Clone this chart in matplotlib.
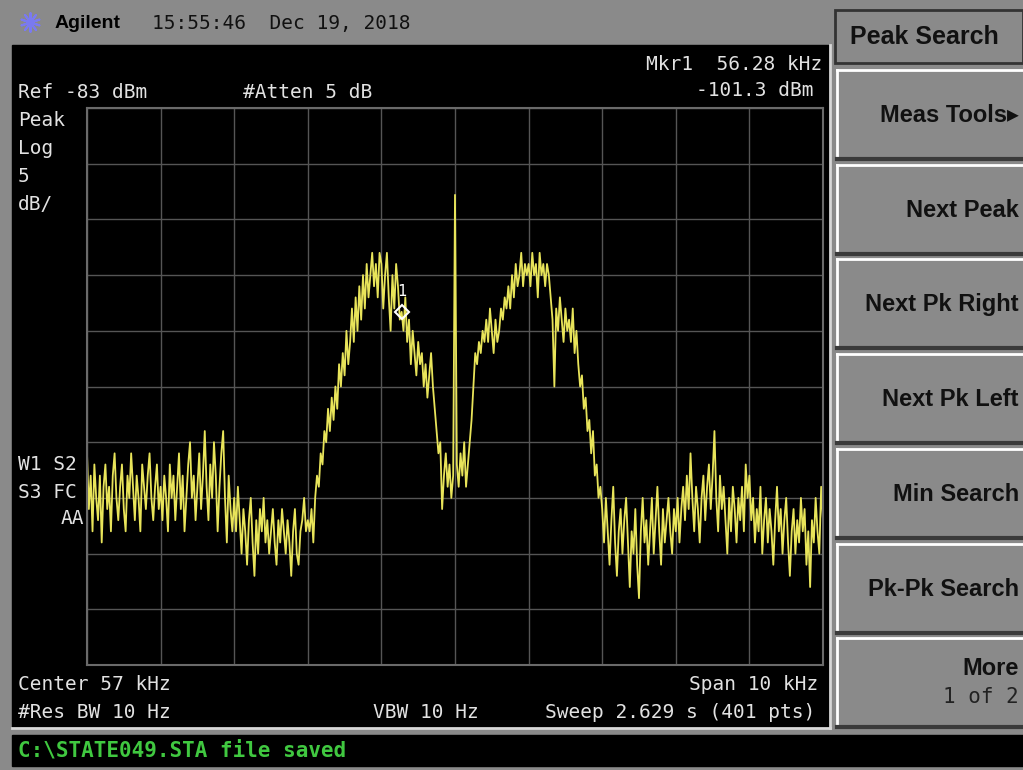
import numpy as np
import matplotlib.pyplot as plt
from matplotlib.patches import Rectangle

W, H = 1023, 770

# instrument settings
center_khz = 57
span_khz = 10
ref_dbm = -83
db_per_div = 5
marker_khz = 56.28
marker_dbm = -101.3

# 401 trace points, one line per division
trace_dbm = [
    -114, -119, -116, -121, -115, -118, -120, -116, -122, -117, -115, -119, -117, -121, -116, -114, -118, -120, -117, -115,
    -119, -121, -116, -118, -114, -117, -120, -116, -118, -121, -115, -117, -119, -116, -114, -118, -120, -117, -115, -119,
    -117, -120, -116, -118, -121, -115, -118, -116, -120, -117, -114, -119, -116, -121, -118, -115, -113, -118, -116, -120,
    -117, -114, -119, -116, -112, -117, -120, -115, -118, -113, -116, -121, -117, -114, -112, -118, -122, -116, -119, -121,
    -118, -121, -117, -120, -123, -119, -121, -124, -120, -118, -122, -125, -120, -123, -119, -121, -118, -122, -120, -123,
    -121, -119, -122, -124, -120, -122, -119, -121, -123, -120, -122, -125, -121, -119, -123, -124, -121, -120, -118, -121,
    -120, -121, -119, -122, -118, -116, -117, -114, -115, -112, -113, -110, -112, -109, -111, -108, -110, -106, -108, -105,
    -107, -103, -106, -104, -101, -104, -100, -103, -99, -102, -98, -101, -97, -100, -98, -96, -99, -97, -100, -96,
    -97, -101, -98, -96, -100, -103, -98, -101, -97, -99, -102, -101.3, -103, -100, -104, -102, -106, -103, -105, -107,
    -104, -106, -105, -108, -106, -109, -107, -105, -108, -110, -112, -114, -113, -119, -116, -114, -117, -115, -118, -116,
    -90.8, -115, -117, -114, -116, -113, -117, -115, -113, -111, -108, -105, -106, -104, -105, -103, -104, -102, -104, -101,
    -103, -105, -102, -104, -103, -101, -102, -100, -101, -99, -101, -98, -100, -97, -99, -98, -96, -99, -97, -98,
    -97, -99, -96, -98, -97, -100, -96, -98, -97, -99, -97, -98, -100, -102, -108, -101, -103, -100, -102, -104,
    -101, -103, -102, -104, -101, -105, -103, -106, -108, -107, -110, -109, -112, -111, -114, -112, -116, -115, -118, -117,
    -119, -122, -118, -121, -124, -120, -117, -122, -125, -121, -119, -123, -120, -118, -122, -126, -121, -123, -119, -124,
    -127, -121, -118, -122, -120, -124, -121, -118, -123, -120, -117, -121, -124, -119, -122, -120, -118, -121, -123, -119,
    -121, -118, -122, -119, -117, -120, -116, -119, -114, -118, -121, -117, -119, -122, -118, -116, -120, -117, -115, -119,
    -116, -112, -118, -121, -116, -119, -117, -120, -123, -118, -121, -117, -119, -122, -118, -120, -117, -121, -115, -118,
    -116, -120, -118, -122, -119, -121, -117, -123, -120, -118, -122, -119, -121, -124, -120, -117, -121, -119, -123, -120,
    -118, -122, -125, -121, -119, -123, -120, -122, -118, -121, -119, -124, -121, -126, -120, -122, -118, -121, -123, -117,
    -120,
]

softkeys = ['Meas Tools\u25b8', 'Next Peak', 'Next Pk Right', 'Next Pk Left',
            'Min Search', 'Pk-Pk Search', 'More']

GRAY = '#8a8a8a'
TXT = '#e2e2e2'
MONO = 'DejaVu Sans Mono'
SANS = ['Liberation Sans', 'DejaVu Sans']

fig = plt.figure(figsize=(W / 100, H / 100), dpi=100)
fig.patch.set_facecolor(GRAY)

# pixel-space canvas for the screen furniture
bg = fig.add_axes([0, 0, 1, 1])
bg.set_xlim(0, W)
bg.set_ylim(H, 0)
bg.axis('off')

bg.add_patch(Rectangle((12, 45), 818, 683, color='black'))
bg.add_patch(Rectangle((12, 735), W - 12, 31, color='black'))
bg.plot([12, 830], [728, 728], color='#d8d8d8', lw=2)
bg.plot([830, 830], [45, 728], color='#d8d8d8', lw=2)

# header
bg.scatter([30], [22], marker=(10, 2, 0), s=180, color='#7a7af0', lw=1.5)
bg.text(55, 24, 'Agilent', fontsize=14, fontweight='bold', family=SANS, va='center')
bg.text(152, 24, '15:55:46  Dec 19, 2018', fontsize=14, family=MONO, va='center', color='#111111')

# annotations on the display
bg.text(822, 64, 'Mkr1  56.28 kHz', fontsize=14, family=MONO, color=TXT, ha='right', va='center')
bg.text(813, 91, '-101.3 dBm', fontsize=14, family=MONO, color=TXT, ha='right', va='center')
bg.text(18, 93, 'Ref -83 dBm', fontsize=14, family=MONO, color=TXT, va='center')
bg.text(243, 93, '#Atten 5 dB', fontsize=14, family=MONO, color=TXT, va='center')
for k, s in enumerate(['Peak', 'Log', '5', 'dB/']):
    bg.text(18, 121 + k * 28, s, fontsize=14, family=MONO, color=TXT, va='center')
bg.text(18, 464, 'W1 S2', fontsize=14, family=MONO, color=TXT, va='center')
bg.text(18, 492, 'S3 FC', fontsize=14, family=MONO, color=TXT, va='center')
bg.text(84, 519, 'AA', fontsize=14, family=MONO, color=TXT, ha='right', va='center')

bg.text(18, 685, 'Center 57 kHz', fontsize=14, family=MONO, color=TXT, va='center')
bg.text(818, 685, 'Span 10 kHz', fontsize=14, family=MONO, color=TXT, ha='right', va='center')
bg.text(18, 713, '#Res BW 10 Hz', fontsize=14, family=MONO, color=TXT, va='center')
bg.text(373, 713, 'VBW 10 Hz', fontsize=14, family=MONO, color=TXT, va='center')
bg.text(815, 713, 'Sweep 2.629 s (401 pts)', fontsize=14, family=MONO, color=TXT, ha='right', va='center')

bg.text(112, 325, 'Marker', fontsize=24, family=SANS, color='white', va='center')
bg.text(112, 365, '56.280 kHz', fontsize=24, family=SANS, color='white', va='center')
bg.text(112, 405, '-101.3 dBm', fontsize=24, family=SANS, color='white', va='center')

bg.text(18, 750, 'C:\\STATE049.STA file saved', fontsize=15, family=MONO,
        fontweight='bold', color='#40c840', va='center')

# softkey panel
bg.add_patch(Rectangle((835, 10), 188, 53, facecolor=GRAY, edgecolor='#333333', lw=2))
bg.text(850, 37, 'Peak Search', fontsize=18, fontweight='bold', family=SANS, va='center', color='#111111')
for k, label in enumerate(softkeys):
    top = 70 + k * 94.7
    h = 89
    bg.add_patch(Rectangle((837, top), 186, h, color=GRAY))
    bg.plot([837, 1023], [top, top], color='white', lw=2)
    bg.plot([837, 837], [top, top + h], color='white', lw=2)
    bg.plot([837, 1023], [top + h, top + h], color='#3a3a3a', lw=3)
    if label == 'More':
        bg.text(1019, top + 30, label, fontsize=17, fontweight='bold', family=SANS,
                ha='right', va='center', color='#111111')
        bg.text(1019, top + 59, '1 of 2', fontsize=15, family=MONO,
                ha='right', va='center', color='#222222')
    else:
        bg.text(1019, top + h / 2 + 1, label, fontsize=17, fontweight='bold', family=SANS,
                ha='right', va='center', color='#111111')

# graticule with the trace
ax = fig.add_axes([87 / W, (H - 665) / H, (823 - 87) / W, (665 - 108) / H])
ax.set_facecolor('black')
f0 = center_khz - span_khz / 2
f1 = center_khz + span_khz / 2
ax.set_xlim(f0, f1)
ax.set_ylim(ref_dbm - 10 * db_per_div, ref_dbm)
ax.set_xticks(np.arange(f0, f1 + 0.5, span_khz / 10))
ax.set_yticks(np.arange(ref_dbm - 10 * db_per_div, ref_dbm + 1, db_per_div))
ax.grid(True, color='#555555', lw=1)
ax.tick_params(length=0, labelbottom=False, labelleft=False)
for sp in ax.spines.values():
    sp.set_color('#6a6a6a')
    sp.set_linewidth(1.5)

freq = np.linspace(f0, f1, len(trace_dbm))
ax.plot(freq, trace_dbm, color='#e8e45a', lw=1.3)
ax.plot(marker_khz, marker_dbm, marker='D', ms=7, mfc='none', mec='white', mew=1.5)
ax.annotate('1', (marker_khz, marker_dbm), xytext=(0, 9), textcoords='offset points',
            color='white', fontsize=11, family=MONO, ha='center', va='bottom')

fig.savefig('out.png', dpi=100, facecolor=fig.get_facecolor())
